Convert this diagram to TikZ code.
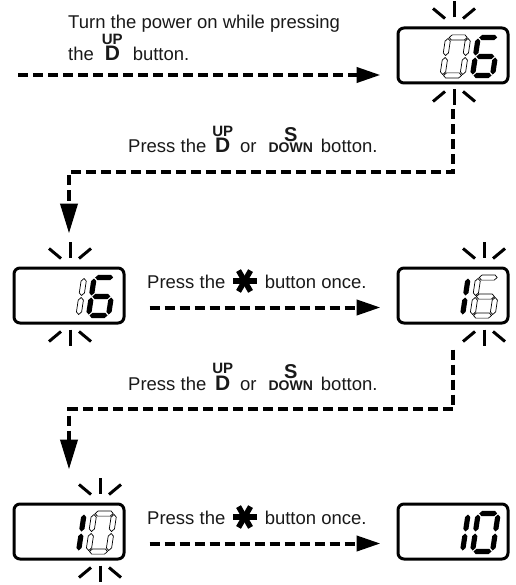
\documentclass[tikz,border=0pt]{standalone}
\usepackage{fontspec}
\setmainfont{Liberation Sans}
\usetikzlibrary{arrows.meta,calc}

\newcommand\btnUD{\leavevmode\vbox{\offinterlineskip\halign{\hfil##\hfil\cr
  \fontsize{15}{15}\selectfont\bfseries UP\cr\noalign{\kern1.5pt}
  \fontsize{21}{21}\selectfont\bfseries D\cr}}}
\newcommand\btnSD{\leavevmode\vbox{\offinterlineskip\halign{\hfil##\hfil\cr
  \fontsize{20}{20}\selectfont\bfseries S\cr\noalign{\kern1.5pt}
  \fontsize{14}{14}\selectfont\bfseries DOWN\cr}}}

\def\sh{2.6}
\newcommand\dgH[3]{({#1},{#3}) -- ({#1+\sh},{#3+\sh}) -- ({#2-\sh},{#3+\sh}) -- ({#2},{#3}) -- ({#2-\sh},{#3-\sh}) -- ({#1+\sh},{#3-\sh}) -- cycle }
\newcommand\dgV[3]{({#1},{#2}) -- ({#1+\sh},{#2+\sh}) -- ({#1+\sh},{#3-\sh}) -- ({#1},{#3}) -- ({#1-\sh},{#3-\sh}) -- ({#1-\sh},{#2+\sh}) -- cycle }
\newcommand\segA{\dgH{1}{19}{38}}
\newcommand\segB{\dgV{20}{20}{37}}
\newcommand\segC{\dgV{20}{1}{18}}
\newcommand\segD{\dgH{1}{19}{0}}
\newcommand\segE{\dgV{0}{1}{18}}
\newcommand\segF{\dgV{0}{20}{37}}
\newcommand\segG{\dgH{1}{19}{19}}
\newcommand\dig[3]{\begin{scope}[shift={(#1)},y=1pt,xslant=0.15]\path[#2] #3;\end{scope}}
% rays above and below a display, #2 = horizontal offset from the box centre
\newcommand\rays[2]{%
  \draw[ray] ($(#1.north)+(#2,-9)$) -- ($(#1.north)+(#2,-25)$);
  \draw[ray] ($(#1.north)+(#2-9,-8)$) -- ($(#1.north)+(#2-21,-18)$);
  \draw[ray] ($(#1.north)+(#2+9,-8)$) -- ($(#1.north)+(#2+21,-18)$);
  \draw[ray] ($(#1.south)+(#2,5)$) -- ($(#1.south)+(#2,21)$);
  \draw[ray] ($(#1.south)+(#2-9,7)$) -- ($(#1.south)+(#2-21,17)$);
  \draw[ray] ($(#1.south)+(#2+9,7)$) -- ($(#1.south)+(#2+21,17)$);}
\newcommand\starat[1]{%
  \foreach \a in {0,60,120} \draw[line width=5.5pt] ($(#1)+(\a:12)$) -- ($(#1)+(\a+180:12)$);}

\begin{document}
\begin{tikzpicture}[x=1pt,y=-1pt,
  txt/.style={font=\fontsize{18.5}{22}\selectfont, inner sep=0pt, anchor=base west, text=black!90},
  disp/.style={draw, line width=3pt, rounded corners=6pt, minimum width=110pt, minimum height=55pt, inner sep=0pt},
  dashline/.style={line width=4pt, dash pattern=on 10pt off 5pt},
  tiph/.style={-{Triangle[length=24pt,width=15pt]}},
  tipv/.style={-{Triangle[length=30pt,width=17pt]}},
  ray/.style={line width=3pt},
  lit/.style={fill=black},
  unlit/.style={draw=black, line width=0.7pt, fill=white}]
\useasboundingbox (0,0) rectangle (515,585);

% displays
\node[disp] (d1) at (453,55.5) {};
\node[disp] (d2) at (69,295.5) {};
\node[disp] (d3) at (453,295.5) {};
\node[disp] (d4) at (69,531.5) {};
\node[disp] (d5) at (453,531.5) {};

% digits
\dig{$(d1.south east)+(-67,-9)$}{unlit}{\segA\segB\segC\segD\segE\segF}
\dig{$(d1.south east)+(-37,-9)$}{lit}{\segA\segC\segD\segE\segF\segG}
\dig{$(d2.south east)+(-67,-9)$}{unlit}{\segB\segC}
\dig{$(d2.south east)+(-37,-9)$}{lit}{\segA\segC\segD\segE\segF\segG}
\dig{$(d3.south east)+(-67,-9)$}{lit}{\segB\segC}
\dig{$(d3.south east)+(-37,-9)$}{unlit}{\segA\segC\segD\segE\segF\segG}
\dig{$(d4.south east)+(-67,-9)$}{lit}{\segB\segC}
\dig{$(d4.south east)+(-37,-9)$}{unlit}{\segA\segB\segC\segD\segE\segF}
\dig{$(d5.south east)+(-67,-9)$}{lit}{\segB\segC}
\dig{$(d5.south east)+(-37,-9)$}{lit}{\segA\segB\segC\segD\segE\segF}

% blinking rays (over the blinking digit)
\rays{d1}{1}
\rays{d2}{1}
\rays{d3}{31}
\rays{d4}{31}

% step 1
\node[txt] (t1a) at (68,29) {Turn the power on while pressing};
\node[txt] (t1b) at (68,61) {the\hspace{8pt}\btnUD\hspace{10pt}button.};
\coordinate (a1s) at (18,75);
\coordinate (a1e) at ($(d1.west |- a1s)+(-16,0)$);
\draw[dashline,tiph] (a1s) -- (a1e);

% step 2
\node[txt] (t2) at (128,153) {Press the\hspace{6pt}\btnUD\hspace{7pt}or\hspace{12pt}\btnSD\hspace{8pt}botton.};
\coordinate (c1a) at ($(d1.south)+(0,25)$);
\coordinate (c1m) at (0,172);
\coordinate (c1b) at ($(d2.north)+(0,-33)$);
\draw[dashline,tipv] (c1a) |- (c1b |- c1m) -- (c1b);

% step 3
\node[txt] (t3a) at (147,288) {Press the};
\coordinate (s1) at ($(t3a.base east)+(19,-7)$);
\starat{s1}
\node[txt] (t3b) at ($(t3a.base east)+(39,0)$) {button once.};
\coordinate (a2s) at ($(d2.east)+(24,12)$);
\coordinate (a2e) at ($(d3.west)+(-16,12)$);
\draw[dashline,tiph] (a2s) -- (a2e);

% step 4
\node[txt] (t4) at (128,390) {Press the\hspace{6pt}\btnUD\hspace{7pt}or\hspace{12pt}\btnSD\hspace{8pt}botton.};
\coordinate (c2a) at ($(d3.south)+(0,25)$);
\coordinate (c2m) at (0,409);
\coordinate (c2b) at ($(d4.north)+(0,-33)$);
\draw[dashline,tipv] (c2a) |- (c2b |- c2m) -- (c2b);

% step 5
\node[txt] (t5a) at (147,524) {Press the};
\coordinate (s2) at ($(t5a.base east)+(19,-7)$);
\starat{s2}
\node[txt] (t5b) at ($(t5a.base east)+(39,0)$) {button once.};
\coordinate (a3s) at ($(d4.east)+(24,12)$);
\coordinate (a3e) at ($(d5.west)+(-16,12)$);
\draw[dashline,tiph] (a3s) -- (a3e);
\end{tikzpicture}
\end{document}
